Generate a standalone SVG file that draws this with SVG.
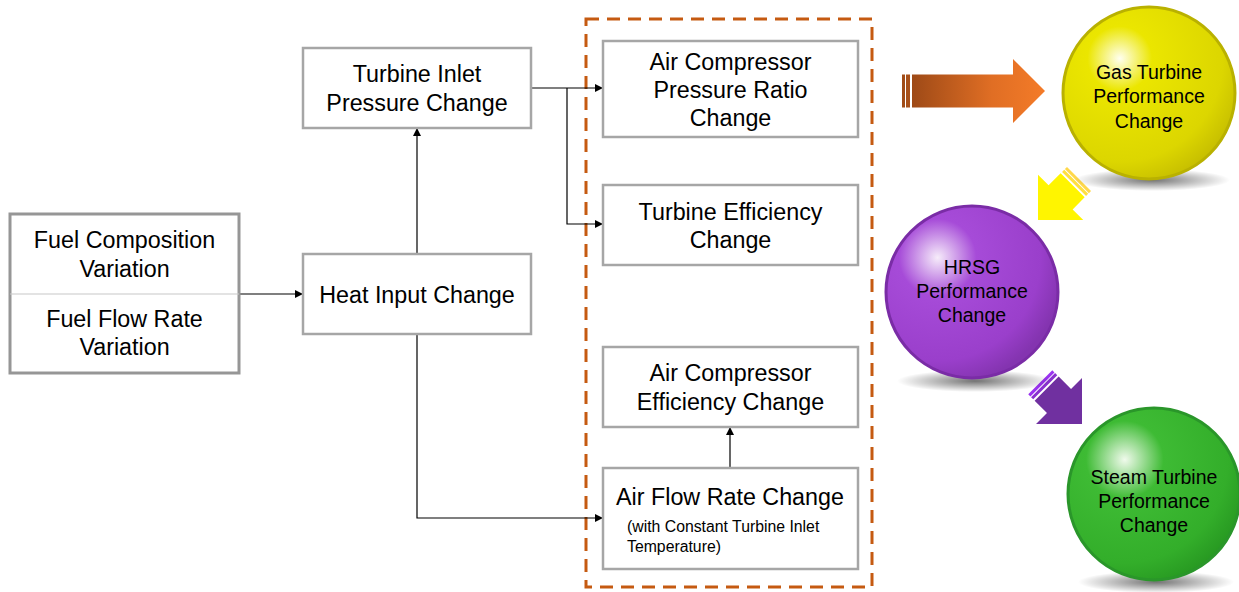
<svg xmlns="http://www.w3.org/2000/svg" width="1239" height="592" viewBox="0 0 1239 592">
<style>
.box{fill:#fff;stroke:#A6A6A6;stroke-width:2.5}
.t{font-family:"Liberation Sans",Arial,sans-serif;font-size:23.3px;fill:#000;text-anchor:middle}
.s{font-family:"Liberation Sans",Arial,sans-serif;font-size:15.8px;fill:#000}
.c{font-family:"Liberation Sans",Arial,sans-serif;font-size:19.5px;fill:#000;text-anchor:middle}
.ln{fill:none;stroke:#000;stroke-width:1.2}
</style>
<defs>
<marker id="ah" viewBox="0 0 10 10" refX="10" refY="5" markerWidth="8" markerHeight="8" markerUnits="userSpaceOnUse" orient="auto">
<path d="M0,0 L10,5 L0,10 z" fill="#000"/>
</marker>
<linearGradient id="og" x1="0" y1="0" x2="1" y2="0">
<stop offset="0" stop-color="#9E4A17"/>
<stop offset="0.6" stop-color="#E06E24"/>
<stop offset="1" stop-color="#F47B28"/>
</linearGradient>
<radialGradient id="gy" cx="0.33" cy="0.3" r="0.75">
<stop offset="0" stop-color="#FFFFF0"/>
<stop offset="0.25" stop-color="#EBE600"/>
<stop offset="0.8" stop-color="#DCD600"/>
<stop offset="1" stop-color="#C8C000"/>
</radialGradient>
<radialGradient id="gp" cx="0.3" cy="0.3" r="0.75">
<stop offset="0" stop-color="#F6ECFA"/>
<stop offset="0.3" stop-color="#A64BD8"/>
<stop offset="0.8" stop-color="#9A3FCB"/>
<stop offset="1" stop-color="#8434B0"/>
</radialGradient>
<radialGradient id="gg" cx="0.33" cy="0.3" r="0.75">
<stop offset="0" stop-color="#F0FAEC"/>
<stop offset="0.3" stop-color="#3EBB34"/>
<stop offset="0.8" stop-color="#33AE2A"/>
<stop offset="1" stop-color="#289A22"/>
</radialGradient>
<radialGradient id="sh" cx="0.5" cy="0.5" r="0.5">
<stop offset="0" stop-color="#000" stop-opacity="0.55"/>
<stop offset="1" stop-color="#000" stop-opacity="0"/>
</radialGradient>
</defs>

<g id="group-box">
<rect x="586" y="19" width="286" height="568" fill="none" stroke="#C55A11" stroke-width="3" stroke-dasharray="13 8"/>
</g>

<g id="connectors">
<line class="ln" x1="239" y1="294" x2="303" y2="294" marker-end="url(#ah)"/>
<line class="ln" x1="417" y1="254" x2="417" y2="128" marker-end="url(#ah)"/>
<polyline class="ln" points="417,334 417,518 603,518" marker-end="url(#ah)"/>
<line class="ln" x1="531" y1="88" x2="603" y2="88" marker-end="url(#ah)"/>
<polyline class="ln" points="567,88 567,224 603,224" marker-end="url(#ah)"/>
<line class="ln" x1="730" y1="468" x2="730" y2="427" marker-end="url(#ah)"/>
</g>

<g id="fuel">
<rect x="10" y="214" width="229" height="159" fill="#fff" stroke="#969696" stroke-width="3"/>
<line x1="10" y1="294" x2="239" y2="294" stroke="#C8C8C8" stroke-width="1.2"/>
<text class="t" x="124.5" y="248">Fuel Composition</text>
<text class="t" x="124.5" y="277">Variation</text>
<text class="t" x="124.5" y="327">Fuel Flow Rate</text>
<text class="t" x="124.5" y="355">Variation</text>
</g>

<g id="heat-input">
<rect class="box" x="303" y="254" width="228" height="80"/>
<text class="t" x="417" y="303">Heat Input Change</text>
</g>

<g id="turbine-inlet">
<rect class="box" x="303" y="48" width="228" height="80"/>
<text class="t" x="417" y="82">Turbine Inlet</text>
<text class="t" x="417" y="111">Pressure Change</text>
</g>

<g id="acpr">
<rect class="box" x="603" y="41" width="255" height="96"/>
<text class="t" x="730.5" y="70">Air Compressor</text>
<text class="t" x="730.5" y="98">Pressure Ratio</text>
<text class="t" x="730.5" y="126">Change</text>
</g>

<g id="turbine-eff">
<rect class="box" x="603" y="185" width="255" height="80"/>
<text class="t" x="730.5" y="220">Turbine Efficiency</text>
<text class="t" x="730.5" y="248">Change</text>
</g>

<g id="ace">
<rect class="box" x="603" y="347" width="255" height="80"/>
<text class="t" x="730.5" y="381">Air Compressor</text>
<text class="t" x="730.5" y="410">Efficiency Change</text>
</g>

<g id="airflow">
<rect class="box" x="603" y="468" width="255" height="101"/>
<text class="t" x="730" y="505">Air Flow Rate Change</text>
<text class="s" x="627" y="532">(with Constant Turbine Inlet</text>
<text class="s" x="627" y="552">Temperature)</text>
</g>

<g id="orange-arrow" transform="translate(1045,91)">
<rect x="-143" y="-16.5" width="3" height="33" fill="#A04C18"/>
<rect x="-139" y="-16.5" width="4" height="33" fill="#A85019"/>
<path d="M0,0 L-32,-32 L-32,-16.5 L-133,-16.5 L-133,16.5 L-32,16.5 L-32,32 Z" fill="url(#og)"/>
<rect x="-143" y="-16.5" width="143" height="33" fill="url(#og)" opacity="0" />
</g>

<g id="yellow-arrow" transform="translate(1038,220) rotate(135)">
<rect x="-58" y="-17" width="3" height="34" fill="#FFD84A"/>
<rect x="-54" y="-17" width="3" height="34" fill="#FFE040"/>
<path d="M0,0 L-32,-32 L-32,-17 L-49,-17 L-49,17 L-32,17 L-32,32 Z" fill="#FFF500"/>
</g>

<g id="purple-arrow" transform="translate(1082,424) rotate(45)">
<rect x="-59" y="-17" width="3" height="34" fill="#9A33F0"/>
<rect x="-55" y="-17" width="3" height="34" fill="#8A30D0"/>
<path d="M0,0 L-32.5,-32.5 L-32.5,-17 L-50,-17 L-50,17 L-32.5,17 L-32.5,32.5 Z" fill="#7030A0"/>
</g>

<g id="gas-turbine">
<ellipse cx="1152" cy="180" rx="78" ry="11" fill="url(#sh)"/>
<circle cx="1149" cy="93" r="86" fill="url(#gy)" stroke="#B9B100" stroke-width="3"/>
<text class="c" x="1149" y="79">Gas Turbine</text>
<text class="c" x="1149" y="103">Performance</text>
<text class="c" x="1149" y="128">Change</text>
</g>

<g id="hrsg">
<ellipse cx="975" cy="381" rx="78" ry="11" fill="url(#sh)"/>
<circle cx="972" cy="292" r="86" fill="url(#gp)" stroke="#7A2CA6" stroke-width="3"/>
<text class="c" x="972" y="274">HRSG</text>
<text class="c" x="972" y="298">Performance</text>
<text class="c" x="972" y="322">Change</text>
</g>

<g id="steam-turbine">
<ellipse cx="1156" cy="582" rx="78" ry="11" fill="url(#sh)"/>
<circle cx="1154" cy="494" r="86" fill="url(#gg)" stroke="#2A962A" stroke-width="3"/>
<text class="c" x="1154" y="484">Steam Turbine</text>
<text class="c" x="1154" y="508">Performance</text>
<text class="c" x="1154" y="532">Change</text>
</g>
</svg>
